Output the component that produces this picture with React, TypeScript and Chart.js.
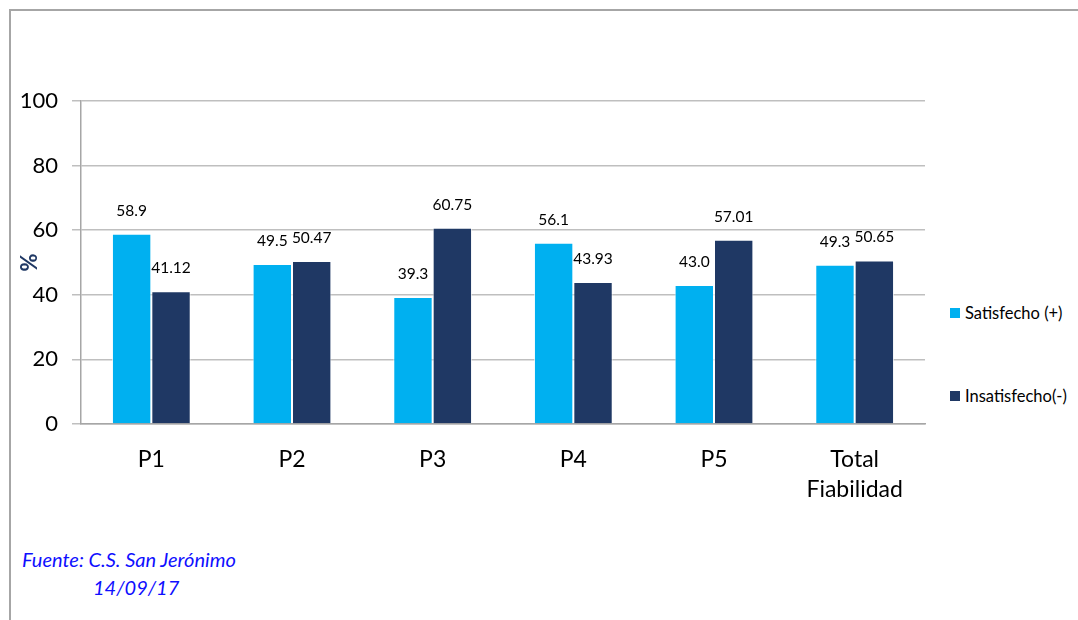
import React, { useEffect, useRef } from "react";
import { Chart, registerables } from "chart.js";

Chart.register(...registerables);

const categories: (string | string[])[] = ["P1", "P2", "P3", "P4", "P5", ["Total", "Fiabilidad"]];
const satisfecho = [58.9, 49.5, 39.3, 56.1, 43.0, 49.3];
const insatisfecho = [41.12, 50.47, 60.75, 43.93, 57.01, 50.65];
const satisfechoLabels = ["58.9", "49.5", "39.3", "56.1", "43.0", "49.3"];
const insatisfechoLabels = ["41.12", "50.47", "60.75", "43.93", "57.01", "50.65"];
const yTicks = [0, 20, 40, 60, 80, 100];
const seriesNames = ["Satisfecho (+)", "Insatisfecho(-)"];

const CYAN = "#00B0F0";
const NAVY = "#1F3864";
const FONT = "Lato, 'Noto Sans', sans-serif";

const labelPlugin = {
  id: "valueLabels",
  afterDatasetsDraw(chart: any) {
    const ctx = chart.ctx;
    const texts = [satisfechoLabels, insatisfechoLabels];
    ctx.save();
    ctx.font = `15.5px ${FONT}`;
    ctx.fillStyle = "#000";
    ctx.textAlign = "center";
    ctx.textBaseline = "middle";
    chart.data.datasets.forEach((_: any, di: number) => {
      const meta = chart.getDatasetMeta(di);
      meta.data.forEach((el: any, i: number) => {
        ctx.fillText(texts[di][i], el.x, el.y - 23);
      });
    });
    ctx.restore();
  },
};

export default function App() {
  const ref = useRef<HTMLCanvasElement | null>(null);

  useEffect(() => {
    if (!ref.current) return;
    const chart = new Chart(ref.current, {
      type: "bar",
      data: {
        labels: categories,
        datasets: [
          {
            label: seriesNames[0],
            data: satisfecho,
            backgroundColor: CYAN,
            borderColor: "rgba(255,255,255,0.7)",
            borderWidth: 1,
          },
          {
            label: seriesNames[1],
            data: insatisfecho,
            backgroundColor: NAVY,
            borderColor: "rgba(255,255,255,0.7)",
            borderWidth: 1,
          },
        ],
      },
      options: {
        animation: false,
        responsive: false,
        maintainAspectRatio: false,
        layout: { padding: { top: 41, right: 15, left: 0, bottom: 0 } },
        datasets: { bar: { categoryPercentage: 0.56, barPercentage: 1 } },
        plugins: {
          legend: { display: false },
          tooltip: { enabled: false },
        },
        scales: {
          x: {
            grid: { display: false },
            border: { display: true, color: "#a6a6a6", width: 1.5 },
            ticks: {
              color: "#000",
              font: { family: FONT, size: 23, lineHeight: 1.32 },
              padding: 12,
              maxRotation: 0,
              autoSkip: false,
            },
            afterFit(scale: any) {
              scale.height = 90;
            },
          },
          y: {
            min: 0,
            max: 100,
            afterBuildTicks(scale: any) {
              scale.ticks = yTicks.map((v) => ({ value: v }));
            },
            grid: { color: "#bfbfbf", lineWidth: 1.5, tickLength: 9 },
            border: { display: true, color: "#a6a6a6", width: 1.5 },
            ticks: {
              color: "#000",
              font: { family: FONT, size: 22 },
              padding: 14,
            },
            title: {
              display: true,
              text: "%",
              color: NAVY,
              font: { family: FONT, size: 22, weight: "bold" },
              padding: { top: 7, bottom: 0 },
            },
            afterFit(scale: any) {
              scale.width = 71;
            },
          },
        },
      },
      plugins: [labelPlugin],
    } as any);
    return () => chart.destroy();
  }, []);

  const legendItem = (color: string, text: string, top: number) => (
    <div
      style={{
        position: "absolute",
        left: 950,
        top,
        display: "flex",
        alignItems: "center",
        fontFamily: FONT,
        fontSize: 16.5,
        color: "#000",
        whiteSpace: "nowrap",
      }}
    >
      <span style={{ display: "inline-block", width: 10, height: 10, background: color, marginRight: 5 }} />
      <span>{text}</span>
    </div>
  );

  return (
    <div
      style={{
        position: "fixed",
        left: 0,
        top: 0,
        width: 1078,
        height: 620,
        overflow: "hidden",
        background: "#fff",
      }}
    >
      <div
        style={{
          position: "absolute",
          left: 9,
          top: 9,
          width: 1080,
          height: 640,
          borderLeft: "2px solid #a6a6a6",
          borderTop: "2px solid #a6a6a6",
        }}
      />
      <canvas
        ref={ref}
        width={930}
        height={454}
        style={{ position: "absolute", left: 10, top: 60, width: 930, height: 454 }}
      />
      {legendItem(CYAN, seriesNames[0], 303)}
      {legendItem(NAVY, seriesNames[1], 386)}
      <div
        style={{
          position: "absolute",
          left: 22,
          top: 545,
          fontFamily: FONT,
          fontStyle: "italic",
          fontSize: 20,
          color: "#0f0fff",
          lineHeight: "28px",
        }}
      >
        <div>Fuente: C.S. San Jerónimo</div>
        <div style={{ paddingLeft: 71 }}>14/09/17</div>
      </div>
    </div>
  );
}
